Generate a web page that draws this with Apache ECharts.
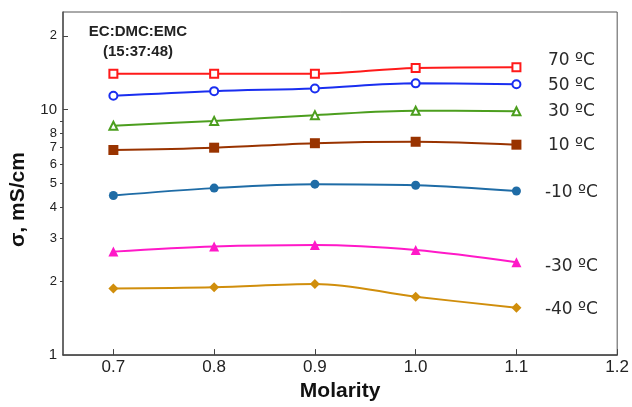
<!DOCTYPE html>
<html>
<head>
<meta charset="utf-8">
<script src="https://cdn.jsdelivr.net/npm/echarts@6/dist/echarts.min.js"></script>
<style>
html,body{margin:0;padding:0;background:#fff;}
#chart{width:632px;height:407px;}
</style>
</head>
<body>
<div id="chart"></div>
<script>
const molarity = [0.7, 0.8, 0.9, 1.0, 1.1];
const xTicks = [0.7, 0.8, 0.9, 1.0, 1.1, 1.2];
const yLabelTicks = [1, 2, 3, 4, 5, 6, 7, 8, 10, 20];
const yMinorTicks = [2, 3, 4, 5, 6, 7, 8, 9];
const yMajorTicks = [10, 20];
const seriesNames = ['70 ºC', '50 ºC', '30 ºC', '10 ºC', '-10 ºC', '-30 ºC', '-40 ºC'];
const s70 = [14.0, 14.0, 14.0, 14.8, 14.9];
const s50 = [11.4, 11.9, 12.2, 12.8, 12.7];
const s30 = [8.6, 9.0, 9.5, 9.9, 9.85];
const s10 = [6.85, 7.0, 7.3, 7.4, 7.2];
const sM10 = [4.47, 4.79, 4.97, 4.92, 4.66];
const sM30 = [2.64, 2.77, 2.81, 2.68, 2.39];
const sM40 = [1.87, 1.89, 1.95, 1.73, 1.56];
const annotation = 'EC:DMC:EMC\n(15:37:48)';

const seriesData = [s70, s50, s30, s10, sM10, sM30, sM40];
const colors = ['#ff1a1a', '#1a2ef0', '#4c9e1e', '#993300', '#1f6ca6', '#ff19c8', '#d08e0c'];
const symbols = ['emptyRect', 'emptyCircle', 'emptyTriangle', 'rect', 'circle', 'triangle', 'diamond'];
const symbolSizes = [8, 8, 8, 10, 9, 10, 10];
const labelDy = [-7, 1, 0, 1, 2, 4, 2];

const chart = echarts.init(document.getElementById('chart'));
const series = seriesData.map((vals, i) => ({
  name: seriesNames[i],
  type: 'line',
  data: vals.map((v, j) => [molarity[j], v]),
  smooth: 0.35,
  symbol: symbols[i],
  symbolSize: symbolSizes[i],
  showAllSymbol: true,
  lineStyle: { color: colors[i], width: 2 },
  itemStyle: { color: colors[i], borderWidth: 1.2 },
  endLabel: {
    show: true,
    formatter: seriesNames[i],
    distance: 55,
    align: 'center',
    offset: [0, labelDy[i]],
    fontFamily: 'DejaVu Sans',
    fontSize: 17,
    color: '#2a2a2a'
  },
  animation: false
}));

chart.setOption({
  animation: false,
  backgroundColor: '#fff',
  title: {
    text: annotation,
    left: 133,
    top: 17,
    textAlign: 'center',
    textStyle: { fontFamily: 'Liberation Sans', fontSize: 15, fontWeight: 'bold', color: '#222', lineHeight: 20 }
  },
  grid: { left: 63, right: 13, top: 12, bottom: 48, show: true, borderColor: '#555', borderWidth: 1 },
  xAxis: {
    type: 'value', min: 0.65, max: 1.2,
    name: 'Molarity', nameLocation: 'middle', nameGap: 18,
    nameTextStyle: { fontFamily: 'Liberation Sans', fontSize: 21, fontWeight: 'bold', color: '#111' },
    axisLine: { lineStyle: { color: '#444', width: 1.5 } },
    axisTick: { show: true, inside: true, length: 6, customValues: xTicks, lineStyle: { color: '#444' } },
    axisLabel: { customValues: xTicks, margin: 4, fontFamily: 'Liberation Sans', fontSize: 17, color: '#222', formatter: v => v.toFixed(1) },
    splitLine: { show: false }
  },
  yAxis: [{
    type: 'log', min: 1, max: 25, logBase: 10,
    name: 'σ, mS/cm', nameLocation: 'middle', nameGap: 34, nameRotate: 90,
    nameTextStyle: { fontFamily: 'Liberation Sans', fontSize: 21, fontWeight: 'bold', color: '#111', padding: [0, 32, 0, 0] },
    axisLine: { show: true, lineStyle: { color: '#555', width: 1.5 } },
    axisTick: { show: true, inside: false, length: 3, customValues: yMinorTicks, lineStyle: { color: '#444' } },
    axisLabel: {
      customValues: yLabelTicks, margin: 6, color: '#222', fontFamily: 'Liberation Sans',
      formatter: v => {
        const r = Math.round(v);
        if (r === 1 || r === 10) return '{big|' + r + '}';
        if (r === 20) return '{mid|2}';
        return '{mid|' + r + '}';
      },
      rich: {
        big: { fontSize: 15, fontFamily: 'Liberation Sans', color: '#222' },
        mid: { fontSize: 13, fontFamily: 'Liberation Sans', color: '#222' }
      }
    },
    splitLine: { show: false }
  }, {
    type: 'log', min: 1, max: 25, logBase: 10, position: 'left',
    axisLine: { show: false },
    axisTick: { show: true, inside: true, length: 5, customValues: yMajorTicks, lineStyle: { color: '#444' } },
    axisLabel: { show: false },
    splitLine: { show: false }
  }],
  series: series
});
</script>
</body>
</html>
